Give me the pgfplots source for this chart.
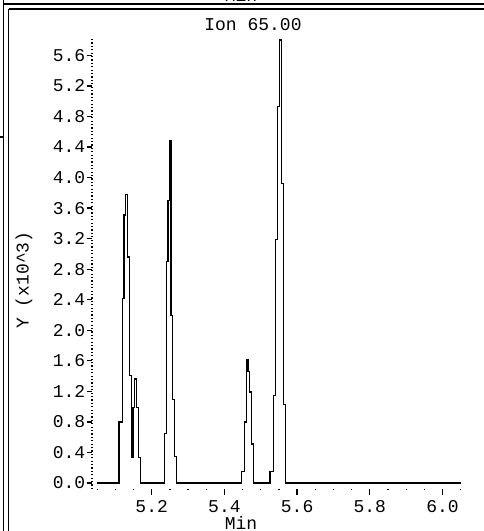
\documentclass[border=0pt]{standalone}
\usepackage{pgfplots}
\pgfplotsset{compat=1.18}
\usepackage{fontspec}
\setmainfont{Liberation Mono}
\pgfplotstableread{
t v
5.0500 0
5.1100 0.80
5.1197 2.42
5.1238 3.51
5.1279 3.78
5.1334 2.96
5.1389 1.41
5.1444 0.33
5.1486 0.99
5.1532 1.36
5.1582 0.99
5.1629 0.33
5.1684 0
5.2352 0.65
5.2402 2.90
5.2448 3.70
5.2484 4.48
5.2531 2.19
5.2578 1.09
5.2636 0.35
5.2682 0
5.4465 0.15
5.4547 0.80
5.4608 1.61
5.4649 1.46
5.4699 1.19
5.4746 0.51
5.4801 0
5.5254 0.15
5.5351 1.15
5.5406 3.19
5.5461 4.93
5.5521 5.80
5.5571 3.92
5.5620 1.03
5.5675 0
6.0520 0
}\ion
\begin{document}
\begin{tikzpicture}[x=1bp,y=1bp]
\useasboundingbox (0,0) rectangle (484,-531);
% window frame
\draw[line width=1.2bp] (3.5,2) -- (3.5,-531);
\draw[line width=1.2bp] (8.5,-9) -- (8.5,-531);
\draw[line width=1.2bp] (3.5,-4) -- (484,-4);
\draw[line width=1.2bp] (8.5,-9) -- (484,-9);
\draw[line width=1.2bp] (0,-137) -- (3.5,-137);
\node[anchor=base, font=\fontsize{18bp}{20bp}\selectfont, inner sep=0pt] at (241,-2) {Min};
\begin{axis}[
  at={(92bp,-489bp)}, anchor=south west,
  width=370bp, height=452bp, scale only axis,
  xmin=5.0358, xmax=6.0536, ymin=-0.0785, ymax=5.84,
  axis x line*=bottom, axis y line*=left,
  x axis line style={-, draw=none},
  y axis line style={-, black, line width=1.3bp, dash pattern=on 1.3bp off 2.1bp},
  xtick={5.2,5.4,5.6,5.8,6.0},
  minor xtick={5.05,5.1,5.15,5.25,5.3,5.35,5.45,5.5,5.55,5.65,5.7,5.75,5.85,5.9,5.95,6.05},
  ytick={0,0.4,0.8,1.2,1.6,2.0,2.4,2.8,3.2,3.6,4.0,4.4,4.8,5.2,5.6},
  tick align=outside,
  major tick length=5.5bp,
  minor tick length=1.3bp,
  every tick/.style={black, line width=1.3bp},
  /pgf/number format/assume math mode=true,
  /pgf/number format/.cd, fixed, fixed zerofill, precision=1, /pgfplots/.cd,
  tick label style={font=\fontsize{18bp}{20bp}\selectfont, inner sep=1bp},
  xticklabel style={yshift=-5bp},
  clip=false,
]
\addplot[const plot, black, line width=1.3bp] table[x=t, y=v] {\ion};
\end{axis}
\node[anchor=base, font=\fontsize{18bp}{20bp}\selectfont, inner sep=0pt] at (253,-31) {Ion 65.00};
\node[anchor=base, font=\fontsize{18bp}{20bp}\selectfont, inner sep=0pt] at (241,-529) {Min};
\node[rotate=90, font=\fontsize{18bp}{20bp}\selectfont] at (24,-280) {Y (x10\string^3)};
\end{tikzpicture}
\end{document}
